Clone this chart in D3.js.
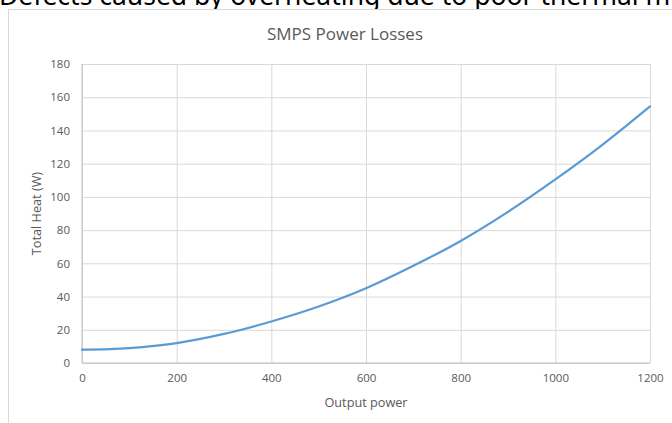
<!DOCTYPE html>
<html>
<head>
<meta charset="utf-8">
<script src="https://cdn.jsdelivr.net/npm/d3@7"></script>
<style>
  html, body { margin: 0; padding: 0; background: #fff; overflow: hidden; }
  svg { display: block; }
</style>
</head>
<body>
<svg id="chart" width="672" height="423"></svg>
<script>
const outputPower = [0, 100, 200, 300, 400, 500, 600, 700, 800, 900, 1000, 1100, 1200];
const totalHeat   = [8, 9, 12, 17.5, 25, 34, 45, 58.5, 73.5, 91, 110.5, 131.5, 154.5];
const xTicks = [0, 200, 400, 600, 800, 1000, 1200];
const yTicks = [0, 20, 40, 60, 80, 100, 120, 140, 160, 180];
const chartTitle = "SMPS Power Losses";
const xTitle = "Output power";
const yTitle = "Total Heat (W)";
const pageText = "Defects caused by overheating due to poor thermal m";

const svg = d3.select("#chart");
const font = "'Open Sans', sans-serif";
const textGray = "#595959";

// page text clipped at top
svg.append("text")
  .attr("x", -1).attr("y", 5)
  .attr("font-family", "'Noto Sans', sans-serif")
  .attr("font-size", 26.5)
  .attr("fill", "#000")
  .text(pageText);

// chart area border (extends beyond the view on right and bottom)
svg.append("rect")
  .attr("x", 8.5).attr("y", 9.5)
  .attr("width", 680).attr("height", 430)
  .attr("fill", "#fff")
  .attr("stroke", "#d9d9d9").attr("stroke-width", 1);

const plot = { left: 82, right: 650, top: 64, bottom: 363 };
const x = d3.scaleLinear().domain([0, 1200]).range([plot.left, plot.right]);
const y = d3.scaleLinear().domain([0, 180]).range([plot.bottom, plot.top]);

// horizontal gridlines
svg.append("g")
  .attr("transform", `translate(${plot.left},0)`)
  .call(d3.axisLeft(y).tickValues(yTicks).tickSize(-(plot.right - plot.left)).tickFormat(""))
  .call(g => g.select(".domain").remove())
  .call(g => g.selectAll("line").attr("stroke", "#d9d9d9").attr("stroke-width", 1));

// vertical gridlines
svg.append("g")
  .attr("transform", `translate(0,${plot.bottom})`)
  .call(d3.axisBottom(x).tickValues(xTicks).tickSize(-(plot.bottom - plot.top)).tickFormat(""))
  .call(g => g.select(".domain").remove())
  .call(g => g.selectAll("line").attr("stroke", "#d9d9d9").attr("stroke-width", 1));

// axis lines
svg.append("line")
  .attr("x1", plot.left).attr("x2", plot.left)
  .attr("y1", plot.top).attr("y2", plot.bottom)
  .attr("stroke", "#bfbfbf");
svg.append("line")
  .attr("x1", plot.left).attr("x2", plot.right)
  .attr("y1", plot.bottom).attr("y2", plot.bottom)
  .attr("stroke", "#bfbfbf");

// y tick labels
svg.append("g")
  .attr("transform", `translate(${plot.left},0)`)
  .call(d3.axisLeft(y).tickValues(yTicks).tickSize(0).tickPadding(12).tickFormat(d3.format("d")))
  .call(g => g.select(".domain").remove())
  .call(g => g.selectAll("text").attr("font-family", font).attr("font-size", 11.5).attr("fill", textGray));

// x tick labels
svg.append("g")
  .attr("transform", `translate(0,${plot.bottom})`)
  .call(d3.axisBottom(x).tickValues(xTicks).tickSize(0).tickPadding(11).tickFormat(d3.format("d")))
  .call(g => g.select(".domain").remove())
  .call(g => g.selectAll("text").attr("font-family", font).attr("font-size", 11.5).attr("fill", textGray));

// line
const line = d3.line()
  .x((d, i) => x(outputPower[i]))
  .y(d => y(d))
  .curve(d3.curveMonotoneX);
svg.append("path")
  .datum(totalHeat)
  .attr("d", line)
  .attr("fill", "none")
  .attr("stroke", "#5b9bd5")
  .attr("stroke-width", 2.25)
  .attr("stroke-linecap", "round");

// titles
svg.append("text")
  .attr("x", 345).attr("y", 40)
  .attr("text-anchor", "middle")
  .attr("font-family", font).attr("font-size", 17)
  .attr("fill", textGray)
  .text(chartTitle);

svg.append("text")
  .attr("x", 366).attr("y", 407)
  .attr("text-anchor", "middle")
  .attr("font-family", font).attr("font-size", 12.7)
  .attr("fill", textGray)
  .text(xTitle);

svg.append("text")
  .attr("transform", `translate(41,${(plot.top + plot.bottom) / 2}) rotate(-90)`)
  .attr("text-anchor", "middle")
  .attr("font-family", font).attr("font-size", 12.7)
  .attr("fill", textGray)
  .text(yTitle);
</script>
</body>
</html>
